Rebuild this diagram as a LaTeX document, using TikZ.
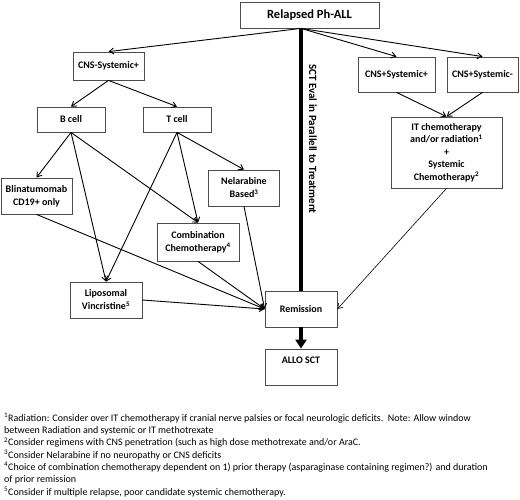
\documentclass[tikz,border=0pt]{standalone}
\usepackage{fontspec}
\setmainfont{Carlito}
\usetikzlibrary{arrows.meta}
\begin{document}
\begin{tikzpicture}[x=1pt,y=-1pt,
  box/.style={draw=black!70,line width=0.8pt,fill=white,align=center,inner sep=1pt,
    font=\fontsize{10}{13}\selectfont\bfseries},
  conn/.style={draw=black,line width=0.9pt,-{Straight Barb[length=4.5pt,width=6pt]}},
  thinconn/.style={draw=black,line width=0.6pt,-{Straight Barb[length=4.5pt,width=6pt]}},
  thick/.style={draw=black,line width=3.6pt},
  foot/.style={align=left,inner sep=0pt,font=\fontsize{10}{12.3}\selectfont}
]
\useasboundingbox[fill=white] (0,0) rectangle (520,499);

% boxes
\node[box,minimum width=139pt,minimum height=26pt,font=\fontsize{12.5}{15}\selectfont\bfseries] (rel) at (309.5,15) {Relapsed Ph-ALL};
\node[box,minimum width=71pt,minimum height=28pt] (cnsm) at (108.5,66) {CNS-Systemic+};
\node[box,minimum width=68pt,minimum height=25pt] (bcell) at (71,119.5) {B cell};
\node[box,minimum width=68pt,minimum height=25pt] (tcell) at (177,119.5) {T cell};
\node[box,minimum width=71pt,minimum height=36pt] (blin) at (36.5,196) {Blinatumomab\\CD19+ only};
\node[box,minimum width=71pt,minimum height=36pt] (nel) at (244,188) {Nelarabine\\Based\textsuperscript{3}};
\node[box,minimum width=82pt,minimum height=38pt] (comb) at (198,242) {Combination\\Chemotherapy\textsuperscript{4}};
\node[box,minimum width=72pt,minimum height=36pt] (lipo) at (106,300) {Liposomal\\Vincristine\textsuperscript{5}};
\node[box,minimum width=72pt,minimum height=36pt] (rem) at (301,309) {Remission};
\node[box,minimum width=72pt,minimum height=36pt,text depth=14pt] (allo) at (301,367) {ALLO SCT};
\node[box,minimum width=77pt,minimum height=35pt] (cnspp) at (396.5,74.5) {CNS+Systemic+};
\node[box,minimum width=71pt,minimum height=35pt] (cnspm) at (482.5,74.5) {CNS+Systemic-};
\node[box,minimum width=111pt,minimum height=71pt,font=\fontsize{10}{12.5}\selectfont\bfseries] (it) at (446.5,152.5)
  {IT chemotherapy\\and/or radiation\textsuperscript{1}\\+\\Systemic\\Chemotherapy\textsuperscript{2}};

% thick SCT line
\coordinate (top) at (rem.north |- rel.south);
\draw[thick] (top) -- (rem.north);
\node[rotate=-90,font=\fontsize{11}{13}\selectfont\bfseries,inner sep=0pt] (sct) at (313,139) {SCT Eval in Parallell to Treatment};
\draw[thick,-{Triangle[length=9pt,width=11pt]}] (rem.south) -- (allo.north);

% connectors
\draw[conn] (top) -- (cnsm.north);
\draw[conn] (top) -- (cnspp.north);
\draw[conn] (top) -- (cnspm.north);
\draw[conn] (cnsm.south) -- (bcell.north);
\draw[conn] (cnsm.south) -- (tcell.north);
\draw[conn] (bcell.south) -- (blin.north);
\draw[conn] (bcell.south) -- (lipo.north);
\draw[conn] (bcell.south) -- (comb.north);
\draw[conn] (tcell.south) -- (lipo.north);
\draw[conn] (tcell.south) -- (comb.north);
\draw[conn] (tcell.south) -- (nel.north);
\draw[conn] (blin.south) -- (rem.west);
\draw[conn] (lipo.east) -- (rem.west);
\draw[conn] (comb.south) -- (rem.west);
\draw[conn] (nel.south) -- (rem.west);
\draw[conn] (cnspp.south) -- (it.north);
\draw[conn] (cnspm.south) -- (it.north);
\draw[thinconn] (it.south) -- (rem.east);

% footnotes
\node[foot,anchor=north west] (notes) at (4,413) {%
\textsuperscript{1}Radiation: Consider over IT chemotherapy if cranial nerve palsies or focal neurologic deficits.\ \ Note: Allow window\\
between Radiation and systemic or IT methotrexate\\
\textsuperscript{2}Consider regimens with CNS penetration (such as high dose methotrexate and/or AraC.\\
\textsuperscript{3}Consider Nelarabine if no neuropathy or CNS deficits\\
\textsuperscript{4}Choice of combination chemotherapy dependent on 1) prior therapy (asparaginase containing regimen?) and duration\\
of prior remission\\
\textsuperscript{5}Consider if multiple relapse, poor candidate systemic chemotherapy.};
\end{tikzpicture}
\end{document}
